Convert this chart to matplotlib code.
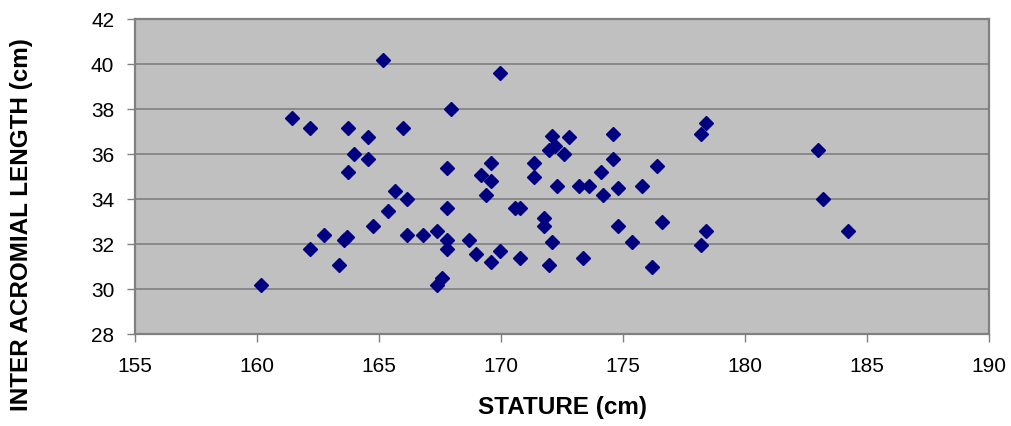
import matplotlib
matplotlib.use("Agg")
import matplotlib.pyplot as plt

stature = [165.18, 161.45, 162.16, 163.74, 165.97, 164.54, 163.98, 164.54, 163.74, 165.66,
           166.16, 165.36, 164.77, 162.76, 163.58, 163.68, 166.16, 166.80, 162.16, 163.36,
           160.15,
           169.97, 167.96, 167.77, 169.58, 169.17, 169.58, 169.37, 167.77, 167.39, 167.77,
           167.77, 168.67, 168.98, 169.58, 169.97, 170.78, 167.57, 167.36, 170.56, 170.78,
           171.37, 171.37, 171.76, 171.76, 172.09, 171.98, 172.09, 171.98, 172.21, 172.79,
           172.58, 172.28, 173.18, 173.62, 173.38, 174.59, 174.59, 174.08, 174.18, 174.78,
           174.78, 175.38, 175.79, 176.39, 176.60, 176.19, 178.20, 178.40, 178.40, 178.20,
           183.00, 183.21, 184.22]
acromial = [40.19, 37.59, 37.17, 37.17, 37.17, 36.77, 35.99, 35.78, 35.19, 34.37,
            33.99, 33.48, 32.78, 32.39, 32.18, 32.32, 32.39, 32.39, 31.76, 31.08,
            30.18,
            39.59, 37.99, 35.39, 35.59, 35.08, 34.79, 34.18, 33.60, 32.59, 32.19,
            31.76, 32.18, 31.57, 31.19, 31.67, 31.38, 30.49, 30.18, 33.60, 33.60,
            35.59, 34.99, 33.16, 32.78, 32.07, 31.08, 36.80, 36.18, 36.37, 36.77,
            35.99, 34.58, 34.58, 34.58, 31.38, 36.89, 35.78, 35.19, 34.18, 34.47,
            32.78, 32.07, 34.58, 35.48, 32.99, 30.98, 36.89, 37.39, 32.59, 31.97,
            36.19, 33.99, 32.58]

x_ticks = [155, 160, 165, 170, 175, 180, 185, 190]
y_ticks = [28, 30, 32, 34, 36, 38, 40, 42]

plt.rcParams['font.family'] = ['Liberation Sans', 'DejaVu Sans']

fig = plt.figure(figsize=(10.12, 4.27), dpi=100)
ax = fig.add_axes([135/1012, 1-335/427, (989-135)/1012, (335-20)/427])
ax.set_facecolor('#C0C0C0')
ax.plot(stature, acromial, linestyle='none', marker='D', markersize=7.5,
        color='#000080', markeredgecolor='#000080', zorder=3)
ax.set_xlim(155, 190)
ax.set_ylim(28, 42)
ax.set_xticks(x_ticks)
ax.set_yticks(y_ticks)
ax.set_xticklabels([str(v) for v in x_ticks], fontsize=15)
ax.set_yticklabels([str(v) for v in y_ticks], fontsize=15)
ax.grid(axis='y', color='#808080', linewidth=1.2, zorder=1)
ax.set_axisbelow(True)
for s in ax.spines.values():
    s.set_color('#808080')
    s.set_linewidth(1.6)
ax.tick_params(axis='both', color='#808080', length=6, width=1, direction='out')
ax.tick_params(axis='x', pad=10)
ax.tick_params(axis='y', pad=9)
fig.text(563/1012, 1-408/427, 'STATURE (cm)', ha='center', va='center',
         fontsize=17.5, fontweight='bold')
fig.text(22/1012, 1-225/427, 'INTER ACROMIAL LENGTH (cm)', ha='center', va='center',
         rotation=90, fontsize=17.5, fontweight='bold')
fig.savefig('out.png', dpi=100)
